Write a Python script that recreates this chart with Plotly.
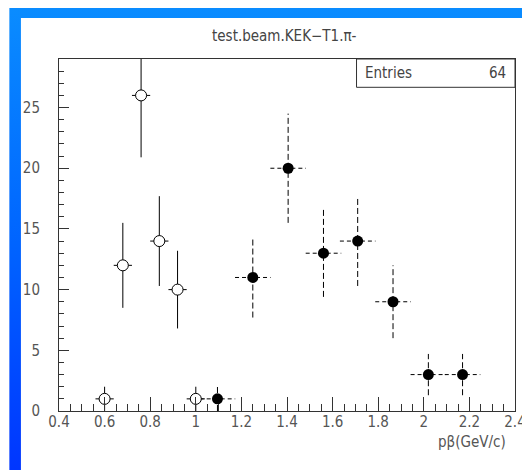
import base64
import plotly.graph_objects as go

# ---- data ----
open_x = [0.60, 0.68, 0.76, 0.84, 0.92, 1.00]
open_y = [1, 12, 26, 14, 10, 1]
open_yerr = [1.0, 3.5, 5.1, 3.7, 3.2, 1.0]
open_xerr = 0.04

fill_x = [1.095, 1.25, 1.405, 1.56, 1.71, 1.865, 2.02, 2.17]
fill_y = [1, 11, 20, 13, 14, 9, 3, 3]
fill_yerr = [1.0, 3.3, 4.5, 3.6, 3.7, 3.0, 1.7, 1.7]
fill_xerr = 0.078

x_ticks = [0.4, 0.6, 0.8, 1.0, 1.2, 1.4, 1.6, 1.8, 2.0, 2.2, 2.4]
y_ticks = [0, 5, 10, 15, 20, 25]

title_text = "test.beam.KEK\u2212T1.\u03c0-"
xlabel_text = "p\u03b2(GeV/c)"
entries = 64

W, H = 530, 470
L, R, T, B = 51, 12, 51, 67
PW, PH = W - L - R, H - T - B

FONT = "Liberation Sans Narrow, DejaVu Sans Condensed, Arial Narrow, sans-serif"
GRAY = "#555555"


def seg(xs, ys, yerr, xerr):
    vx, vy, hx, hy = [], [], [], []
    for x, y, e in zip(xs, ys, yerr):
        vx += [x, x, None]
        vy += [y - e, y + e, None]
        hx += [x - xerr, x + xerr, None]
        hy += [y, y, None]
    return vx, vy, hx, hy


fig = go.Figure()

ovx, ovy, ohx, ohy = seg(open_x, open_y, open_yerr, open_xerr)
fvx, fvy, fhx, fhy = seg(fill_x, fill_y, fill_yerr, fill_xerr)

for xx, yy, dash in [(ovx, ovy, "solid"), (ohx, ohy, "solid"),
                     (fvx, fvy, "6px,3px"), (fhx, fhy, "4px,3px")]:
    fig.add_trace(go.Scatter(x=xx, y=yy, mode="lines",
                             line=dict(color="black", width=1, dash=dash),
                             hoverinfo="skip", showlegend=False, cliponaxis=True))

fig.add_trace(go.Scatter(x=open_x, y=open_y, mode="markers",
                         marker=dict(symbol="circle", size=11, color="white",
                                     line=dict(color="black", width=1)),
                         showlegend=False))
fig.add_trace(go.Scatter(x=fill_x, y=fill_y, mode="markers",
                         marker=dict(symbol="circle", size=11, color="black",
                                     line=dict(color="black", width=0)),
                         showlegend=False))

svg = f'''<svg xmlns="http://www.w3.org/2000/svg" width="{W}" height="{H}" viewBox="0 0 {W} {H}">
<defs><linearGradient id="g" x1="0" y1="0" x2="0" y2="1">
<stop offset="0" stop-color="#0a8cff"/><stop offset="0.5" stop-color="#0064ff"/>
<stop offset="1" stop-color="#0034ff"/></linearGradient></defs>
<rect x="0" y="0" width="{W}" height="{H}" fill="url(#g)"/>
<rect x="12" y="10" width="{W-12}" height="{H-10}" fill="white"/>
</svg>'''
uri = "data:image/svg+xml;base64," + base64.b64encode(svg.encode()).decode()

fig.add_layout_image(dict(source=uri, xref="paper", yref="paper",
                          x=-L / PW, y=1 + T / PH, sizex=W / PW, sizey=H / PH,
                          xanchor="left", yanchor="top", sizing="stretch",
                          layer="below"))

axis_common = dict(showgrid=False, zeroline=False, showline=True, linecolor="#333333",
                   linewidth=1, mirror=True, ticks="inside", tickcolor="#333333",
                   tickfont=dict(family=FONT, size=15, color=GRAY))

fig.update_xaxes(range=[0.4, 2.4], tickvals=x_ticks,
                 ticktext=[f"{v:g}" for v in x_ticks], ticklen=14, tickwidth=1,
                 minor=dict(dtick=0.05, ticks="inside", ticklen=7, tickcolor="#333333"),
                 ticklabelstandoff=-3, **axis_common)
fig.update_yaxes(range=[0, 29], tickvals=y_ticks,
                 ticktext=[str(v) for v in y_ticks], ticklen=10, tickwidth=1,
                 minor=dict(dtick=1, ticks="inside", ticklen=5, tickcolor="#333333"),
                 ticklabelstandoff=15, **axis_common)

fig.add_shape(type="rect", xref="paper", yref="paper",
              x0=(355.7 - L) / PW, x1=1, y0=(H - B - 79.3) / PH, y1=1,
              line=dict(color="#333333", width=1), fillcolor="white", layer="above")

ymid = (H - B - 65) / PH
fig.add_annotation(text="Entries", xref="paper", yref="paper", x=(362 - L) / PW, y=ymid,
                   xanchor="left", yanchor="middle", showarrow=False,
                   font=dict(family=FONT, size=15, color="#444444"))
fig.add_annotation(text=str(entries), xref="paper", yref="paper", x=(511 - L) / PW, y=ymid,
                   xanchor="right", yanchor="middle", showarrow=False,
                   font=dict(family=FONT, size=15, color="#444444"))
fig.add_annotation(text=title_text, xref="paper", yref="paper", x=(282 - L) / PW,
                   y=(H - B - 28) / PH, xanchor="center", yanchor="middle", showarrow=False,
                   font=dict(family=FONT, size=15, color="#444444"))
fig.add_annotation(text=xlabel_text, xref="paper", yref="paper", x=(511 - L) / PW,
                   y=-(434 - (H - B)) / PH, xanchor="right", yanchor="middle", showarrow=False,
                   font=dict(family=FONT, size=15, color=GRAY))

fig.update_layout(width=W, height=H, margin=dict(l=L, r=R, t=T, b=B),
                  paper_bgcolor="white", plot_bgcolor="white", showlegend=False)

fig.write_html("out.html")
